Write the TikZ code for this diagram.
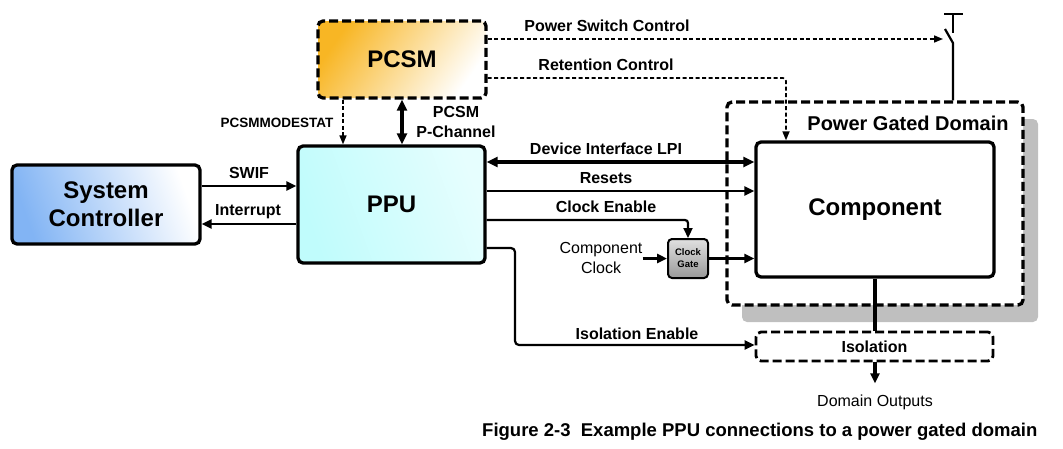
\documentclass[tikz,border=0pt]{standalone}
\usepackage{fontspec}
\setmainfont{Liberation Sans}
\usetikzlibrary{arrows.meta,shadows}
\definecolor{scblue}{RGB}{130,180,244}
\definecolor{ppucyan}{RGB}{192,252,252}
\definecolor{pcsmorange}{RGB}{248,182,36}
\begin{document}
\begin{tikzpicture}[x=1pt,y=-1pt,
  box/.style={draw=black,rounded corners=5pt,line width=3.3pt,align=center,inner sep=0pt,font=\bfseries\fontsize{24}{28}\selectfont},
  dbox/.style={box,dash pattern=on 9pt off 4pt},
  lbl/.style={inner sep=0pt,align=center,font=\bfseries\fontsize{16}{20}\selectfont},
  plain/.style={inner sep=0pt,align=center,font=\fontsize{16}{20}\selectfont},
  sig/.style={line width=2.8pt,-{Triangle[length=10pt,width=9pt]}},
  sigboth/.style={line width=3.4pt,{Triangle[length=11pt,width=10pt]}-{Triangle[length=11pt,width=10pt]}},
  ctl/.style={line width=1.6pt,dash pattern=on 4pt off 2.5pt,-{Triangle[length=9pt,width=7pt]}}]
\useasboundingbox (0,0) rectangle (1063,448);

\node[dbox,fill=white,minimum width=296pt,minimum height=203pt,drop shadow={shadow xshift=15pt,shadow yshift=-17pt,fill=black!25,opacity=1}] (pgd) at (875,203.5) {};
\node[lbl,font=\bfseries\fontsize{20}{24}\selectfont] (pgdlbl) at (908,123) {Power Gated Domain};
\node[box,fill=white,minimum width=238pt,minimum height=135pt] (comp) at (875,209.5) {Component};
\node[box,left color=scblue,right color=white,shading angle=110,minimum width=188pt,minimum height=79pt] (sc) at (106,204.5) {System\\Controller};
\node[box,left color=ppucyan,right color=white!60!ppucyan,shading angle=110,minimum width=187pt,minimum height=117pt] (ppu) at (391.5,204.5) {PPU};
\node[dbox,left color=pcsmorange,right color=white,shading angle=55,minimum width=168pt,minimum height=77pt] (pcsm) at (402,59.5) {PCSM};
\node[box,line width=2pt,rounded corners=4pt,top color=black!12,bottom color=black!40,minimum width=40pt,minimum height=39pt,font=\bfseries\fontsize{9.5}{12}\selectfont] (cg) at (688,258.5) {Clock\\Gate};
\node[dbox,line width=2.8pt,fill=white,minimum width=237pt,minimum height=29pt,font=\bfseries\fontsize{16}{20}\selectfont] (iso) at (874.5,346.5) {Isolation};

\node[lbl] (swif) at (249,173) {SWIF};
\node[lbl] (intr) at (248,212) {Interrupt};
\node[lbl,font=\bfseries\fontsize{13.5}{16}\selectfont] (mode) at (277,123) {PCSMMODESTAT};
\node[lbl] (pch) at (456,122) {PCSM\\P-Channel};
\node[lbl] (psc) at (607,26) {Power Switch Control};
\node[lbl] (ret) at (606,65) {Retention Control};
\node[lbl] (lpi) at (606,149) {Device Interface LPI};
\node[lbl] (rst) at (606,178) {Resets};
\node[lbl] (cen) at (606,207) {Clock Enable};
\node[plain] (cc) at (601,258) {Component\\Clock};
\node[lbl] (ien) at (637,334) {Isolation Enable};
\node[plain] (dout) at (875,402) {Domain Outputs};
\node[lbl,anchor=west,font=\bfseries\fontsize{18.5}{22}\selectfont] (cap) at (482,432) {Figure 2-3\ \ Example PPU connections to a power gated domain};

\coordinate (swin) at (943,39);
\coordinate (swpiv) at (953,43);
\draw[line width=2.2pt] (944,14) -- (963,14) (953,14) -- (953,33);
\draw[line width=2.2pt] (945,29) -- (swpiv) -- (pgd.north -| swpiv);

\draw[sig] (sc.east |- 0,186) -- (ppu.west |- 0,186);
\draw[sig] (ppu.west |- 0,224) -- (sc.east |- 0,224);
\draw[ctl] (pcsm.south -| 343,0) -- (ppu.north -| 343,0);
\draw[sigboth] (pcsm.south -| 402,0) -- (ppu.north -| 402,0);
\draw[ctl] (pcsm.east |- swin) -- (swin);
\draw[ctl,rounded corners=3pt] (pcsm.east |- 0,78) -| (comp.north -| 786,0);
\draw[sigboth] (ppu.east |- 0,162) -- (comp.west |- 0,162);
\draw[sig] (ppu.east |- 0,191) -- (comp.west |- 0,191);
\draw[sig,line width=2.2pt,rounded corners=3pt] (ppu.east |- 0,220) -| (cg.north);
\draw[sig] (cc.east |- cg.west) -- (cg.west);
\draw[sig] (cg.east) -- (comp.west |- cg.east);
\draw[sig,line width=2.2pt,rounded corners=4pt] (ppu.east |- 0,248) -| (515,345) -- (iso.west |- 0,345);
\draw[line width=3.3pt] (comp.south) -- (comp.south |- iso.north);
\draw[sig,line width=3.6pt,shorten >=11pt] (iso.south -| comp.south) -- (dout.north -| comp.south);
\end{tikzpicture}
\end{document}
